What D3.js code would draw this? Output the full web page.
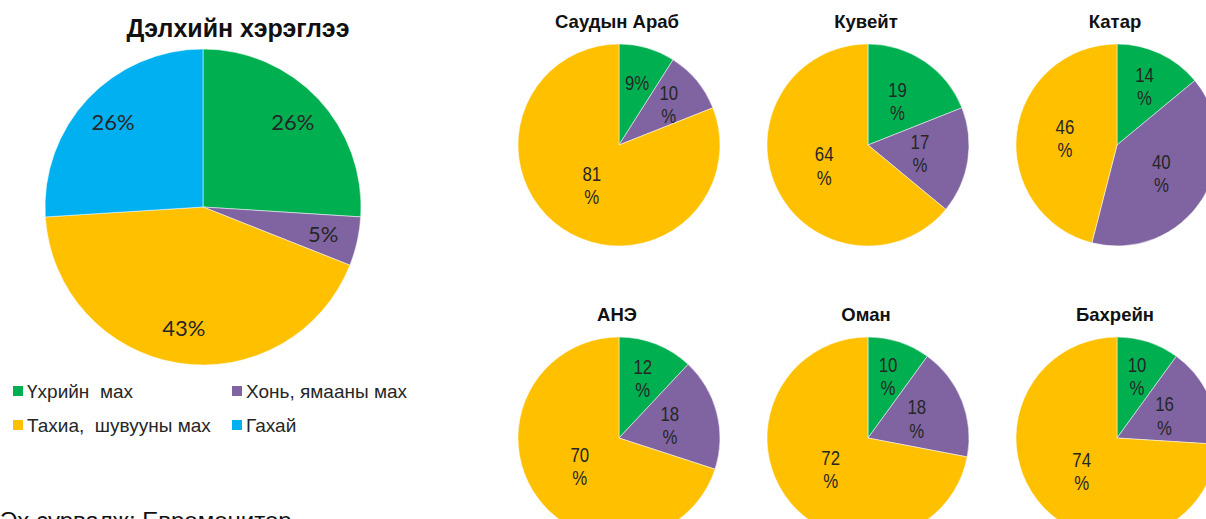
<!DOCTYPE html>
<html>
<head>
<meta charset="utf-8">
<script src="https://cdn.jsdelivr.net/npm/d3@7"></script>
<style>
  body { margin: 0; background: #fff; }
  svg { display: block; }
</style>
</head>
<body>
<script>
// categories and colours
var categories = ["Үхрийн  мах", "Хонь, ямааны мах", "Тахиа,  шувууны мах", "Гахай"];
var colors = ["#00B050", "#8064A2", "#FFC000", "#00B0F0"];

// world consumption (%)
var worldTitle = "Дэлхийн хэрэглээ";
var worldShare = [26, 5, 43, 26];

// gulf countries (%): beef, mutton, poultry
var countries = ["Саудын Араб", "Кувейт", "Катар", "АНЭ", "Оман", "Бахрейн"];
var beef    = [9, 19, 14, 12, 10, 10];
var mutton  = [10, 17, 40, 18, 18, 16];
var poultry = [81, 64, 46, 70, 72, 74];

var source = "Эх сурвалж: Евромонитор";

var width = 1206, height = 519;

var svg = d3.select("body").append("svg")
  .attr("width", width)
  .attr("height", height);

var pie = d3.pie()
  .sort(null)
  .value(function(d) { return d.share; });

// ---- big pie ----
var worldData = worldShare.map(function(v, i) { return {cat: i, share: v}; });
var R = 158;

svg.append("text")
  .attr("x", 238).attr("y", 37)
  .attr("text-anchor", "middle")
  .style("font-family", "'Liberation Sans', Arial, sans-serif")
  .style("font-weight", "bold")
  .style("font-size", "25px")
  .style("fill", "#111")
  .text(worldTitle);

var big = svg.append("g").attr("transform", "translate(203,207)");
var arc = d3.arc().innerRadius(0).outerRadius(R);
var labelArc = d3.arc().innerRadius(R * 0.78).outerRadius(R * 0.78);

big.selectAll("path")
  .data(pie(worldData))
  .enter().append("path")
  .attr("d", arc)
  .style("fill", function(d) { return colors[d.data.cat]; })
  .style("stroke", "#fff")
  .style("stroke-width", 0.5);

big.selectAll("text")
  .data(pie(worldData))
  .enter().append("text")
  .attr("transform", function(d) { return "translate(" + labelArc.centroid(d) + ")"; })
  .attr("dy", "0.35em")
  .attr("text-anchor", "middle")
  .style("font-family", "Lato, 'Open Sans', sans-serif")
  .style("font-size", "22px")
  .style("fill", "#262626")
  .text(function(d) { return d.data.share + "%"; });

// legend
var legend = svg.append("g");
categories.forEach(function(c, i) {
  var lx = (i % 2 === 0) ? 13 : 232;
  var ly = (i < 2) ? 391 : 425;
  legend.append("rect")
    .attr("x", lx).attr("y", ly - 5)
    .attr("width", 10).attr("height", 10)
    .style("fill", colors[i]);
  legend.append("text")
    .attr("x", lx + 14).attr("y", ly)
    .attr("dy", "0.35em")
    .style("font-family", "'Liberation Sans', Arial, sans-serif")
    .style("font-size", "19px")
    .style("fill", "#262626")
    .style("white-space", "pre")
    .attr("xml:space", "preserve")
    .text(c);
});

// source note, cut off by the bottom edge like in the original
svg.append("text")
  .attr("x", 0).attr("y", 529)
  .style("font-family", "'Liberation Sans', Arial, sans-serif")
  .style("font-size", "24px")
  .style("fill", "#111")
  .text(source);

// ---- small pies ----
var r = 101;
var colX = d3.scalePoint().domain([0, 1, 2]).range([619, 1117]);
var rowY = d3.scalePoint().domain([0, 1]).range([145, 438]);
var smallArc = d3.arc().innerRadius(0).outerRadius(r);

countries.forEach(function(name, k) {
  var cx = colX(k % 3), cy = rowY(Math.floor(k / 3));
  var data = [
    {cat: 0, share: beef[k]},
    {cat: 1, share: mutton[k]},
    {cat: 2, share: poultry[k]}
  ];

  svg.append("text")
    .attr("x", cx - 2).attr("y", cy - 117)
    .attr("text-anchor", "middle")
    .style("font-family", "'Liberation Sans', Arial, sans-serif")
    .style("font-weight", "bold")
    .style("font-size", "18.5px")
    .style("fill", "#111")
    .text(name);

  var g = svg.append("g").attr("transform", "translate(" + cx + "," + cy + ")");

  g.selectAll("path")
    .data(pie(data))
    .enter().append("path")
    .attr("d", smallArc)
    .style("fill", function(d) { return colors[d.data.cat]; })
    .style("stroke", "#fff")
    .style("stroke-width", 0.5);

  var lab = g.selectAll("text")
    .data(pie(data))
    .enter().append("text")
    .attr("transform", function(d) {
      var f = d.data.share < 15 ? 0.64 : (d.data.share > 60 ? 0.48 : 0.52);
      var a = d3.arc().innerRadius(r * f).outerRadius(r * f);
      return "translate(" + a.centroid(d) + ") scale(0.8,1)";
    })
    .attr("text-anchor", "middle")
    .style("font-family", "'Liberation Sans', Arial, sans-serif")
    .style("font-size", "21px")
    .style("fill", "#262626");

  lab.each(function(d) {
    var t = d3.select(this);
    if (String(d.data.share).length < 2) {
      t.append("tspan").attr("x", 0).attr("dy", "0.35em").text(d.data.share + "%");
    } else {
      t.append("tspan").attr("x", 0).attr("dy", "-0.2em").text(d.data.share);
      t.append("tspan").attr("x", 0).attr("dy", "1.1em").text("%");
    }
  });
});
</script>
</body>
</html>
